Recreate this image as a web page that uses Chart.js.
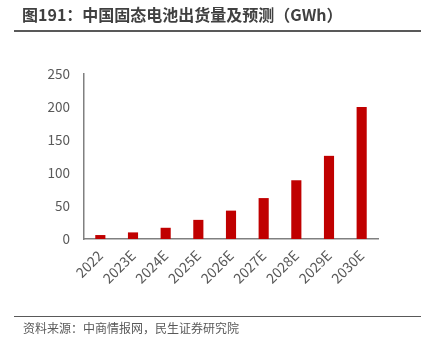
<!DOCTYPE html>
<html>
<head>
<meta charset="utf-8">
<script src="https://cdn.jsdelivr.net/npm/chart.js@4"></script>
<style>
  html, body { margin: 0; padding: 0; background: #fff; }
  #wrap { position: relative; width: 428px; height: 351px; overflow: hidden; }
  #title { position: absolute; left: 22px; top: 2px; font: bold 16px "Noto Sans CJK SC", sans-serif; color: #404040; white-space: nowrap; }
  #topLine { position: absolute; left: 14px; top: 30px; width: 407px; height: 2px; background: #595959; }
  #bottomLine { position: absolute; left: 14px; top: 316px; width: 407px; height: 1px; background: #595959; }
  #source { position: absolute; left: 23px; top: 319px; font: 12px "Noto Sans CJK SC", sans-serif; color: #595959; white-space: nowrap; }
  #chartBox { position: absolute; left: 0; top: 0; width: 428px; height: 351px; }
</style>
</head>
<body>
<div id="wrap">
  <div id="chartBox"><canvas id="shipChart"></canvas></div>
  <div id="title">图191：中国固态电池出货量及预测（GWh）</div>
  <div id="topLine"></div>
  <div id="bottomLine"></div>
  <div id="source">资料来源：中商情报网，民生证券研究院</div>
</div>
<script>
const years = ['2022', '2023E', '2024E', '2025E', '2026E', '2027E', '2028E', '2029E', '2030E'];
const shipments = [6, 10, 17, 29, 43, 62, 89, 126, 200];
const yTicks = [0, 50, 100, 150, 200, 250];

const ctx = document.getElementById('shipChart').getContext('2d');

const shipChart = new Chart(ctx, {
  type: 'bar',
  data: {
    labels: years,
    datasets: [{
      data: shipments,
      backgroundColor: '#C00000',
      barPercentage: 0.31,
      categoryPercentage: 1
    }]
  },
  options: {
    responsive: true,
    maintainAspectRatio: false,
    animation: false,
    layout: { padding: { left: 0, right: 50, top: 74, bottom: 0 } },
    plugins: { legend: { display: false }, tooltip: { enabled: false } },
    scales: {
      x: {
        grid: { display: false, drawTicks: false },
        border: { color: '#808080', width: 1.5 },
        ticks: {
          color: '#595959',
          font: { family: 'Noto Sans CJK SC', size: 14 },
          maxRotation: 45,
          minRotation: 45,
          padding: 8
        },
        afterFit: (scale) => { scale.height = 351 - 239; }
      },
      y: {
        min: 0,
        max: 250,
        afterBuildTicks: (scale) => { scale.ticks = yTicks.map(v => ({ value: v })); },
        grid: { display: false, drawTicks: false },
        border: { color: '#808080', width: 1.5 },
        ticks: {
          color: '#595959',
          font: { family: 'Noto Sans CJK SC', size: 13.5 },
          padding: 14
        },
        afterFit: (scale) => { scale.width = 84; }
      }
    }
  }
});
</script>
</body>
</html>
